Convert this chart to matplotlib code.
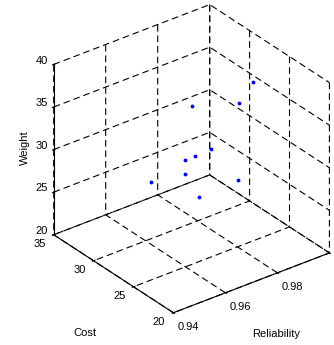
import matplotlib
matplotlib.use('Agg')
import matplotlib.pyplot as plt

plt.rcParams['font.family'] = ['Liberation Sans', 'DejaVu Sans']
plt.rcParams['font.size'] = 8

# --- data ---
reliability = [0.995, 0.993, 0.981, 0.976, 0.973, 0.972, 0.966, 0.962, 0.977, 0.962]
cost = [28, 29, 31, 27, 28, 29, 27, 30, 24, 24]
weight = [35.8, 32.9, 32.8, 30.7, 29.7, 28.7, 29.0, 26.7, 28.8, 28.6]

rel_ticks = [0.94, 0.96, 0.98, 1.0]
rel_labels = ['0.94', '0.96', '0.98', '']
cost_ticks = [20, 25, 30, 35]
weight_ticks = [20, 25, 30, 35, 40]

fig = plt.figure(figsize=(3.34, 3.45), dpi=100)
ax = fig.add_axes([0.06, 0.027, 1.0, 1.0], projection='3d', proj_type='ortho')
ax.view_init(elev=30, azim=-127.5)
ax.set_box_aspect((1, 1, 1), zoom=0.99)

ax.plot(reliability, cost, weight, '.', color='blue', markersize=3.5)

ax.set_xlim(0.94, 1.0)
ax.set_ylim(20, 35)
ax.set_zlim(20, 40)
ax.set_xticks(rel_ticks)
ax.set_xticklabels(rel_labels)
ax.set_yticks(cost_ticks)
ax.set_zticks(weight_ticks)

# --- MATLAB look: no panes, dashed black grid ---
for axis in (ax.xaxis, ax.yaxis, ax.zaxis):
    axis.set_pane_color((1, 1, 1, 0))
    axis.pane.set_edgecolor('none')
    axis._axinfo['grid'].update(color='black', linestyle=(0, (6, 3.5)), linewidth=0.8)
    axis._axinfo['tick']['inward_factor'] = 0.1
    axis._axinfo['tick']['outward_factor'] = 0.1
    axis.line.set_color('black')
    axis.line.set_linewidth(0.8)
    axis.set_rotate_label(False)

ax.tick_params(axis='x', pad=-3.5)
ax.tick_params(axis='y', pad=-1.5)
ax.tick_params(axis='z', pad=-2.5)
for lbl in ax.get_xticklabels():
    lbl.set_ha('left')
for lbl in ax.get_yticklabels():
    lbl.set_ha('right')
    lbl.set_va('baseline')
for lbl in ax.get_zticklabels():
    lbl.set_va('baseline')

ax.yaxis._axinfo['label']['ha'] = 'left'
ax.set_xlabel('Reliability', rotation=0, labelpad=5)
ax.set_ylabel('Cost', rotation=0, labelpad=11.5)
ax.set_zlabel('Weight', rotation=90, labelpad=-8)

fig.savefig('out.png', dpi=100)
